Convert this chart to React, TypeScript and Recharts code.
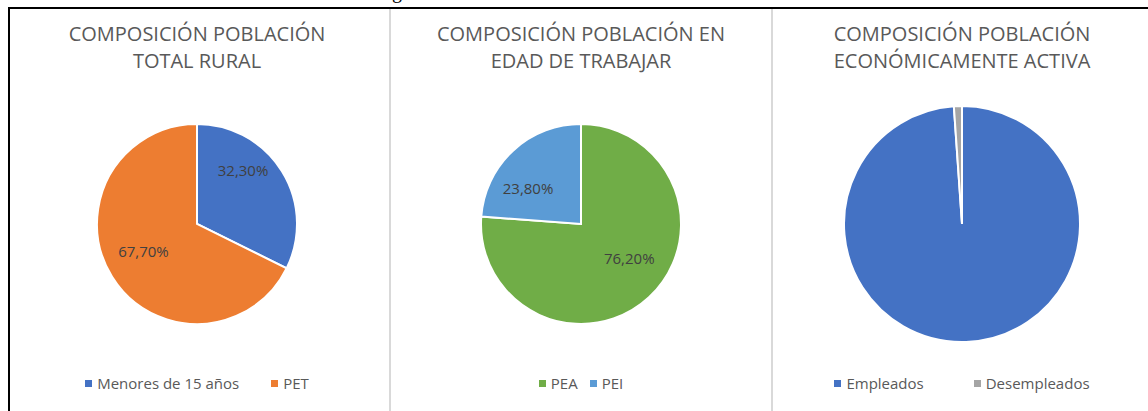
import type { CSSProperties } from 'react';
import { Cell, Legend, Pie, PieChart } from 'recharts';

// Composición de la población rural (%)
const ruralNames = ['Menores de 15 años', 'PET'];
const ruralValues = [32.3, 67.7];

const workAgeNames = ['PEA', 'PEI'];
const workAgeValues = [76.2, 23.8];

const activeNames = ['Empleados', 'Desempleados'];
const activeValues = [98.9, 1.1];

const FONT = '"Open Sans", "Liberation Sans", sans-serif';
const TEXT_GRAY = '#595959';

type Nudge = { angle: number; dist: number };

type PanelProps = {
  center: number;
  title: string[];
  names: string[];
  values: number[];
  colors: string[];
  radius: number;
  nudges?: Nudge[];
  legendGap: number;
};

const formatPct = (v: number) => `${v.toFixed(2).replace('.', ',')}%`;

function makeLabel(nudges: Nudge[]) {
  return (props: any) => {
    const { cx, cy, midAngle, outerRadius, index, value } = props;
    const n = nudges[index];
    const a = ((midAngle + n.angle) * Math.PI) / 180;
    const r = outerRadius * n.dist;
    return (
      <text
        x={cx + r * Math.cos(a)}
        y={cy - r * Math.sin(a)}
        textAnchor="middle"
        dominantBaseline="central"
        fill="#404040"
        fontFamily={FONT}
        fontSize={15}
      >
        {formatPct(value)}
      </text>
    );
  };
}

function PiePanel({ center, title, names, values, colors, radius, nudges, legendGap }: PanelProps) {
  const width = 380;
  const data = names.map((name, i) => ({ name, value: values[i] }));

  const titleStyle: CSSProperties = {
    position: 'absolute',
    left: center - width / 2,
    top: 20,
    width,
    textAlign: 'center',
    fontFamily: FONT,
    fontSize: 20,
    lineHeight: '27px',
    color: TEXT_GRAY,
  };

  return (
    <>
      <div style={titleStyle}>
        {title.map((t) => (
          <div key={t}>{t}</div>
        ))}
      </div>
      <div style={{ position: 'absolute', left: center - width / 2, top: 0 }}>
        <PieChart width={width} height={411} margin={{ top: 0, right: 0, bottom: 0, left: 0 }}>
          <Pie
            data={data}
            dataKey="value"
            nameKey="name"
            cx={width / 2}
            cy={224}
            outerRadius={radius}
            startAngle={90}
            endAngle={-270}
            stroke="#ffffff"
            strokeWidth={2}
            labelLine={false}
            label={nudges ? makeLabel(nudges) : false}
            isAnimationActive={false}
          >
            {data.map((d, i) => (
              <Cell key={d.name} fill={colors[i]} />
            ))}
          </Pie>
          <Legend
            wrapperStyle={{ top: 373, left: 0, width }}
            content={() => (
              <div
                style={{
                  display: 'flex',
                  justifyContent: 'center',
                  gap: legendGap,
                  fontFamily: FONT,
                  fontSize: 15,
                  color: TEXT_GRAY,
                  lineHeight: '20px',
                }}
              >
                {names.map((n, i) => (
                  <span key={n} style={{ display: 'flex', alignItems: 'center' }}>
                    <span
                      style={{
                        width: 7,
                        height: 7,
                        background: colors[i],
                        marginRight: 5,
                        display: 'inline-block',
                      }}
                    />
                    {n}
                  </span>
                ))}
              </div>
            )}
          />
        </PieChart>
      </div>
    </>
  );
}

export default function App() {
  return (
    <div
      style={{
        position: 'absolute',
        left: 0,
        top: 0,
        width: 1148,
        height: 411,
        background: '#ffffff',
        overflow: 'hidden',
      }}
    >
      {/* trozo del pie de figura recortado arriba */}
      <div
        style={{
          position: 'absolute',
          left: 392,
          top: -19,
          fontFamily: '"Liberation Serif", serif',
          fontSize: 20,
          lineHeight: '20px',
          color: '#000',
        }}
      >
        g
      </div>
      <div style={{ position: 'absolute', left: 8, top: 7, width: 1140, height: 2, background: '#000' }} />
      <div style={{ position: 'absolute', left: 8, top: 7, width: 2, height: 404, background: '#000' }} />
      <div style={{ position: 'absolute', left: 389, top: 9, width: 2, height: 402, background: '#d9d9d9' }} />
      <div style={{ position: 'absolute', left: 771, top: 9, width: 2, height: 402, background: '#d9d9d9' }} />

      <PiePanel
        center={197}
        title={['COMPOSICIÓN POBLACIÓN', 'TOTAL RURAL']}
        names={ruralNames}
        values={ruralValues}
        colors={['#4472C4', '#ED7D31']}
        radius={100}
        nudges={[
          { angle: 17.7, dist: 0.71 },
          { angle: -5, dist: 0.6 },
        ]}
        legendGap={32}
      />
      <PiePanel
        center={581}
        title={['COMPOSICIÓN POBLACIÓN EN', 'EDAD DE TRABAJAR']}
        names={workAgeNames}
        values={workAgeValues}
        colors={['#70AD47', '#5B9BD5']}
        radius={100}
        nudges={[
          { angle: 12, dist: 0.59 },
          { angle: 13, dist: 0.64 },
        ]}
        legendGap={12}
      />
      <PiePanel
        center={962}
        title={['COMPOSICIÓN POBLACIÓN', 'ECONÓMICAMENTE ACTIVA']}
        names={activeNames}
        values={activeValues}
        colors={['#4472C4', '#A5A5A5']}
        radius={118}
        legendGap={50}
      />
    </div>
  );
}
